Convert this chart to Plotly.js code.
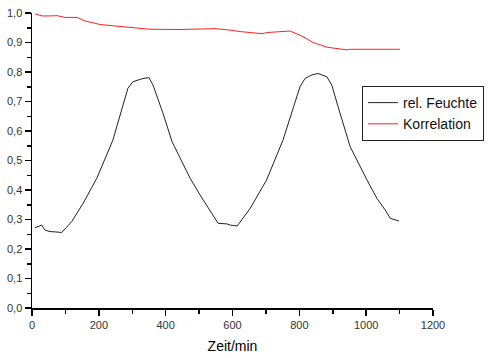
<!DOCTYPE html>
<html>
<head>
<meta charset="utf-8">
<script src="https://cdn.plot.ly/plotly-3.0.1.min.js"></script>
<style>html,body{margin:0;padding:0;background:#fff;}#chart{width:500px;height:358px;}</style>
</head>
<body>
<div id="chart"></div>
<script>
// rel. Feuchte
const feuchteX = [9, 29, 39, 54, 69, 89, 119, 153, 194, 242, 287, 302, 332, 350, 362, 392, 419, 473, 503, 533, 557, 584, 593, 614, 653, 702, 751, 802, 817, 837, 856, 882, 897, 916, 952, 1001, 1032, 1057, 1072, 1098];
const feuchteY = [0.272, 0.281, 0.264, 0.259, 0.258, 0.256, 0.293, 0.355, 0.44, 0.569, 0.745, 0.767, 0.778, 0.781, 0.756, 0.66, 0.564, 0.44, 0.383, 0.332, 0.287, 0.285, 0.281, 0.278, 0.338, 0.434, 0.569, 0.75, 0.778, 0.79, 0.795, 0.784, 0.756, 0.682, 0.547, 0.437, 0.372, 0.332, 0.304, 0.295];
// Korrelation
const korrX = [9, 30, 54, 75, 99, 135, 159, 204, 248, 308, 353, 443, 503, 548, 593, 623, 688, 706, 772, 811, 841, 883, 943, 952, 1101];
const korrY = [0.997, 0.99, 0.99, 0.991, 0.985, 0.985, 0.973, 0.961, 0.956, 0.949, 0.945, 0.944, 0.945, 0.947, 0.942, 0.937, 0.930, 0.934, 0.939, 0.920, 0.90, 0.884, 0.875, 0.877, 0.877];
const seriesNames = ['rel. Feuchte', 'Korrelation'];
const xTitle = 'Zeit/min';

const font = 'Liberation Sans, Arial, sans-serif';
const data = [
  {x: feuchteX, y: feuchteY, name: seriesNames[0], type: 'scatter', mode: 'lines', line: {color: '#222222', width: 1}},
  {x: korrX, y: korrY, name: seriesNames[1], type: 'scatter', mode: 'lines', line: {color: '#ff2020', width: 1}}
];
const layout = {
  width: 500, height: 358,
  margin: {l: 32, r: 67, t: 13, b: 50},
  paper_bgcolor: '#fff', plot_bgcolor: '#fff',
  separators: ',.',
  font: {family: font, size: 11, color: '#333'},
  showlegend: true,
  legend: {x: 0.823, y: 0.7525, xanchor: 'left', yanchor: 'top', bordercolor: '#222', borderwidth: 1,
           bgcolor: '#fff', font: {family: font, size: 14, color: '#111'}, tracegroupgap: 0,
           itemwidth: 30},
  xaxis: {range: [0, 1200], dtick: 200, tick0: 0, ticks: 'outside', ticklen: 6, tickwidth: 1.5, tickcolor: '#000',
          showline: true, linecolor: '#000', linewidth: 1.5, showgrid: false, zeroline: false,
          minor: {dtick: 100, ticks: 'outside', ticklen: 4, tickwidth: 1.5, tickcolor: '#000'},
          tickfont: {family: font, size: 11, color: '#333'},
          title: {text: xTitle, font: {family: font, size: 14, color: '#000'}, standoff: 11}},
  yaxis: {range: [0, 1], dtick: 0.1, tick0: 0, tickformat: '.1f', ticks: 'outside', ticklen: 6, tickwidth: 1.5, tickcolor: '#000',
          showline: true, linecolor: '#000', linewidth: 1.5, showgrid: false, zeroline: false,
          minor: {dtick: 0.05, ticks: 'outside', ticklen: 4, tickwidth: 1.5, tickcolor: '#000'},
          tickfont: {family: font, size: 11, color: '#333'}}
};
Plotly.newPlot('chart', data, layout, {displayModeBar: false, staticPlot: true});
</script>
</body>
</html>
